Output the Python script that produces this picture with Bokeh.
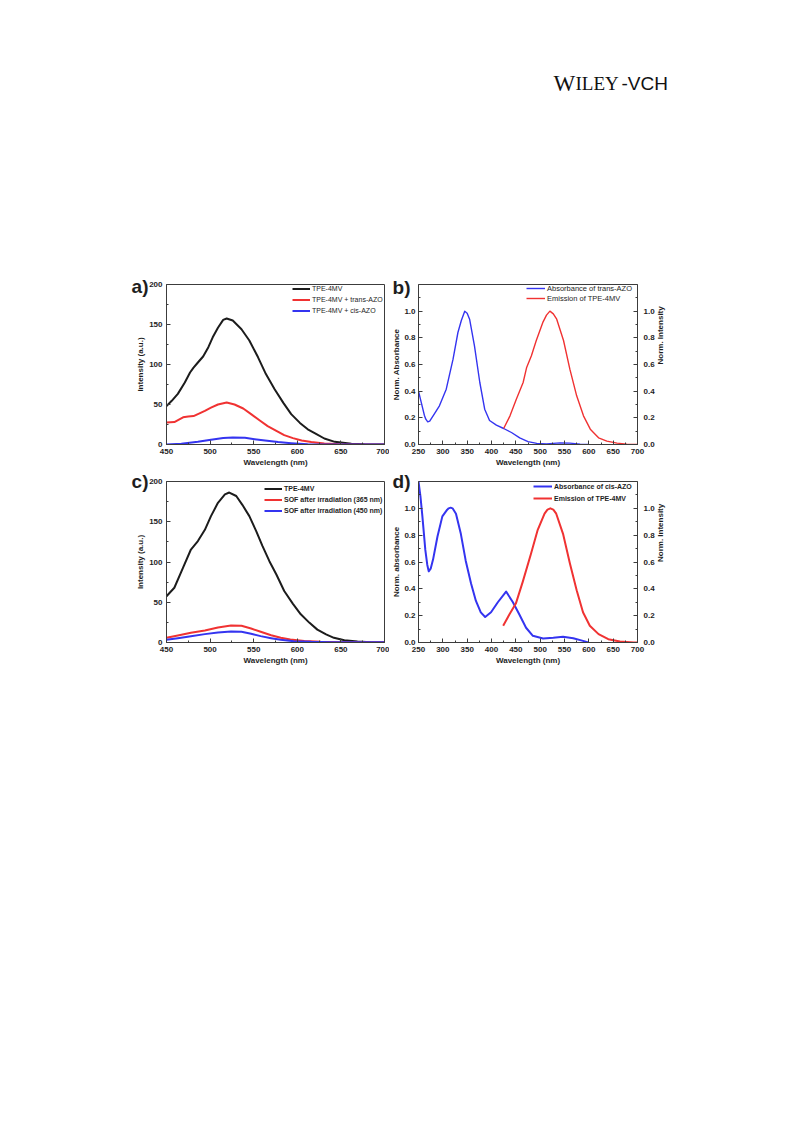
import math
from bokeh.plotting import figure
from bokeh.layouts import column, row
from bokeh.models import (Range1d, LinearAxis, FixedTicker, PrintfTickFormatter,
                          Legend, LegendItem, CustomJSTickFormatter)
from bokeh.embed import file_html
from bokeh.resources import INLINE
from bokeh.core.properties import value

# ---------------- data ----------------
# panel a: fluorescence intensity (a.u.) vs wavelength (nm)
a_x_black = [450, 456, 463, 471, 477, 481, 486, 492, 498, 503, 509, 515, 519, 526, 536, 545, 555,
             564, 574, 584, 593, 603, 612, 622, 631, 643, 662, 677, 700]
a_black = [48, 54.6, 63.3, 77.5, 90, 96, 102.5, 110, 121.7, 134, 146, 155.8, 157.5, 155, 144, 130, 109,
           88, 69, 52, 38, 27, 19, 13, 7.5, 3.3, 1, 0.3, 0]
a_x_red = [450, 459, 469, 475, 481, 486, 494, 501, 509, 519, 528, 538, 547, 557, 566, 576, 585, 595,
           605, 616, 631, 650, 700]
a_red = [27.5, 28, 34, 35, 35.5, 38, 42, 46, 50, 52.5, 50, 45, 38, 30, 23, 17, 11.7, 8,
         5, 3, 1.3, 0.4, 0]
a_x_blue = [450, 467, 486, 501, 515, 526, 540, 551, 563, 578, 593, 612, 640, 700]
a_blue = [0, 1, 3.3, 6, 8, 8.8, 8.3, 6.7, 5, 3, 1.7, 0.4, 0.1, 0]
a_labels = ["TPE-4MV", "TPE-4MV + trans-AZO", "TPE-4MV + cis-AZO"]

# panel b: normalized absorbance of trans-AZO and emission of TPE-4MV
b_x_abs = [250, 256, 262, 265, 269, 273, 280, 293, 307, 321, 331, 338, 345, 350, 355, 365, 376, 386,
           396, 410, 425, 441, 458, 475, 493, 513, 541, 561, 582, 600]
b_abs = [0.40, 0.31, 0.22, 0.19, 0.17, 0.175, 0.215, 0.29, 0.415, 0.64, 0.84, 0.93, 1.0, 0.985, 0.94,
         0.74, 0.465, 0.265, 0.18, 0.145, 0.12, 0.09, 0.05, 0.022, 0.008, 0.005, 0.012, 0.01, 0.003, 0.0]
b_x_em = [425, 438, 451, 465, 472, 482, 492, 506, 513, 520, 527, 534, 548, 561, 575, 589, 603, 620,
          637, 658, 678, 700]
b_em = [0.12, 0.215, 0.34, 0.465, 0.575, 0.665, 0.78, 0.92, 0.97, 1.0, 0.98, 0.94, 0.78, 0.565, 0.365,
        0.215, 0.115, 0.05, 0.025, 0.01, 0.003, 0.0]
b_labels = ["Absorbance of trans-AZO", "Emission of TPE-4MV"]

# panel c: fluorescence intensity of SOF
c_x_black = [450, 459, 469, 478, 486, 494, 501, 509, 517, 522, 530, 537, 545, 553, 560, 568, 576,
             585, 595, 604, 614, 623, 633, 642, 654, 669, 684, 700]
c_black = [57.5, 68, 93, 115.5, 126, 140, 157, 173.5, 184, 186.3, 182, 171, 157, 138, 120, 101, 84.5,
           64, 48, 35, 24.4, 16, 10, 5.8, 2.9, 1.2, 0.4, 0]
c_x_red = [450, 463, 478, 494, 509, 524, 536, 547, 558, 570, 581, 592, 608, 627, 650, 700]
c_red = [5.8, 8.7, 12, 15, 18.6, 21, 20.7, 17.4, 13.3, 9.1, 5.8, 3.7, 2, 0.8, 0.4, 0.2]
c_x_blue = [450, 463, 478, 494, 509, 524, 536, 547, 558, 570, 581, 596, 616, 639, 700]
c_blue = [3.3, 5.4, 7.9, 10.4, 12.4, 13.7, 13.3, 10.8, 7.9, 5.4, 3.3, 1.7, 0.8, 0.4, 0.2]
c_labels = ["TPE-4MV", "SOF after irradiation (365 nm)", "SOF after irradiation (450 nm)"]

# panel d: normalized absorbance of cis-AZO and emission of TPE-4MV
d_x_abs = [250, 254, 258, 264, 268, 271, 275, 280, 289, 299, 309, 312, 316, 320, 327, 337, 347, 358,
           368, 378, 387, 399, 413, 430, 444, 457, 471, 485, 506, 527, 547, 568, 588, 599]
d_abs = [1.2, 1.09, 0.94, 0.69, 0.58, 0.53, 0.55, 0.62, 0.79, 0.94, 0.99, 1.0, 1.005, 1.0, 0.96, 0.81,
         0.61, 0.44, 0.31, 0.225, 0.19, 0.225, 0.30, 0.38, 0.30, 0.21, 0.11, 0.05, 0.03, 0.035, 0.042,
         0.032, 0.012, 0.0]
d_x_em = [424, 437, 450, 464, 481, 495, 509, 515, 521, 527, 533, 547, 561, 575, 588, 602, 620, 640,
          664, 692, 700]
d_em = [0.125, 0.21, 0.29, 0.45, 0.66, 0.84, 0.96, 0.99, 1.0, 0.99, 0.96, 0.81, 0.59, 0.39, 0.225,
        0.125, 0.0625, 0.025, 0.0075, 0.0, 0.0]
d_labels = ["Absorbance of cis-AZO", "Emission of TPE-4MV"]

# axis ticks
int_ticks = [0, 50, 100, 150, 200]
int_minor = [25, 75, 125, 175]
wl_ticks_ac = [450, 500, 550, 600, 650, 700]
wl_minor_ac = [475, 525, 575, 625, 675]
wl_ticks_bd = [250, 300, 350, 400, 450, 500, 550, 600, 650, 700]
wl_minor_bd = [275, 325, 375, 425, 475, 525, 575, 625, 675]
norm_ticks = [0.0, 0.2, 0.4, 0.6, 0.8, 1.0]
norm_minor = [0.1, 0.3, 0.5, 0.7, 0.9, 1.1]

panel_tags = ["a)", "b)", "c)", "d)"]
header_parts = ["W", "ILEY", "-VCH"]

# ---------------- style ----------------
FONT = "Liberation Sans"
INK = "#1e1e1e"
AXC = "#3c3c3c"
BLACK = "#1c1c1c"
RED = "#f03232"
BLUE = "#3434f0"


def base_fig(width, height, xr, yr, mbl, mbr, mbt, mbb):
    p = figure(width=width, height=height, x_range=Range1d(*xr), y_range=Range1d(*yr),
               output_backend="svg", toolbar_location=None,
               min_border_left=mbl, min_border_right=mbr,
               min_border_top=mbt, min_border_bottom=mbb)
    p.xgrid.visible = False
    p.ygrid.visible = False
    p.outline_line_color = AXC
    p.outline_line_width = 1
    p.outline_line_alpha = 1.0
    p.background_fill_color = "white"
    p.border_fill_color = "white"
    return p


def style_axis(ax, ticks, minor, label, tick_standoff, label_standoff, fmt=None):
    ax.ticker = FixedTicker(ticks=ticks, minor_ticks=minor)
    if fmt:
        ax.formatter = PrintfTickFormatter(format=fmt)
    ax.axis_label = label
    ax.major_tick_in = 4
    ax.major_tick_out = 0
    ax.minor_tick_in = 2
    ax.minor_tick_out = 0
    ax.axis_line_color = AXC
    ax.major_tick_line_color = AXC
    ax.minor_tick_line_color = AXC
    ax.major_label_text_font = FONT
    ax.major_label_text_font_size = "8px"
    ax.major_label_text_font_style = "bold"
    ax.major_label_text_color = INK
    ax.axis_label_text_font = FONT
    ax.axis_label_text_font_size = "8px"
    ax.axis_label_text_font_style = "bold"
    ax.axis_label_text_color = INK
    ax.major_label_standoff = tick_standoff
    ax.axis_label_standoff = label_standoff


def add_legend(p, renderers, labels, loc, glyph_w, row_h, size, style):
    items = [LegendItem(label=l, renderers=[r]) for l, r in zip(labels, renderers)]
    lg = Legend(items=items, location=loc, margin=0, padding=0, spacing=0,
                glyph_width=glyph_w, glyph_height=row_h, label_height=row_h,
                label_standoff=2, label_text_font=FONT, label_text_font_size=size,
                label_text_font_style=style, label_text_color=INK,
                border_line_color=None, background_fill_alpha=0.0)
    p.add_layout(lg)


def panel_tag(p, text, ypos, standoff):
    # the panel letter is drawn as the single label of an extra, line-less left axis
    ax = LinearAxis()
    ax.ticker = FixedTicker(ticks=[ypos], minor_ticks=[])
    ax.formatter = CustomJSTickFormatter(code="return %r;" % text)
    ax.axis_line_color = None
    ax.major_tick_line_color = None
    ax.minor_tick_line_color = None
    ax.major_tick_in = 0
    ax.major_tick_out = 0
    ax.minor_tick_in = 0
    ax.minor_tick_out = 0
    ax.major_label_standoff = standoff
    ax.major_label_text_font = FONT
    ax.major_label_text_font_size = "19px"
    ax.major_label_text_font_style = "bold"
    ax.major_label_text_color = INK
    p.add_layout(ax, "left")


def right_axis(p, label):
    p.extra_y_ranges = {"right": Range1d(0, 1.2)}
    ax = LinearAxis(y_range_name="right")
    style_axis(ax, norm_ticks, norm_minor, label, 6, 3, "%.1f")
    try:
        ax.axis_label_orientation = math.pi / 2
    except Exception:
        pass
    p.add_layout(ax, "right")


def draw(p, xs, ys, color, width, **kw):
    return p.line(xs, ys, line_color=color, line_width=width, line_join="round", **kw)


# ---------------- header ----------------
hdr = figure(width=720, height=270, x_range=Range1d(0, 720), y_range=Range1d(270, 0),
             output_backend="svg", toolbar_location=None,
             x_axis_type=None, y_axis_type=None, min_border=0)
hdr.outline_line_color = None
hdr.xgrid.visible = False
hdr.ygrid.visible = False
hdr.text(x=[553], y=[82.7], text=[header_parts[0]], text_font=value("Liberation Serif"),
         text_font_size="23px", text_align="left", text_baseline="alphabetic", text_color="#111111")
hdr.text(x=[575], y=[82.7], text=[header_parts[1]], text_font=value("Liberation Serif"),
         text_font_size="19px", text_align="left", text_baseline="alphabetic", text_color="#111111")
hdr.text(x=[621], y=[82.7], text=[header_parts[2]], text_font=value("Liberation Sans"),
         text_font_size="19px", text_align="left", text_baseline="alphabetic", text_color="#111111")

# ---------------- panel a ----------------
pa = base_fig(389, 200, (450, 700), (0, 200), 166, 5, 14, 26)
style_axis(pa.xaxis[0], wl_ticks_ac, wl_minor_ac, "Wavelength (nm)", 4, 1)
style_axis(pa.yaxis[0], int_ticks, int_minor, "Intensity (a.u.)", 4, 1)
panel_tag(pa, panel_tags[0], 197, -15)
ra1 = draw(pa, a_x_black, a_black, BLACK, 2)
ra2 = draw(pa, a_x_red, a_red, RED, 2)
ra3 = draw(pa, a_x_blue, a_blue, BLUE, 2)
add_legend(pa, [ra1, ra2, ra3], a_labels, (126, 128), 18, 11, "7px", "normal")

# ---------------- panel b ----------------
pb = base_fig(284, 200, (250, 700), (0, 1.2), 28, 36, 14, 26)
style_axis(pb.xaxis[0], wl_ticks_bd, wl_minor_bd, "Wavelength (nm)", 4, 1)
style_axis(pb.yaxis[0], norm_ticks, norm_minor, "Norm. Absorbance", 3, 0, "%.1f")
panel_tag(pb, panel_tags[1], 1.174, -21)
right_axis(pb, "Norm. Intensity")
rb1 = draw(pb, b_x_abs, b_abs, BLUE, 1.4)
rb2 = draw(pb, b_x_em, b_em, RED, 1.4, y_range_name="right")
add_legend(pb, [rb1, rb2], b_labels, (108, 141), 19, 10, "7.5px", "normal")

# ---------------- panel c ----------------
pc = base_fig(389, 198, (450, 700), (0, 200), 166, 5, 11, 26)
style_axis(pc.xaxis[0], wl_ticks_ac, wl_minor_ac, "Wavelength (nm)", 4, 1)
style_axis(pc.yaxis[0], int_ticks, int_minor, "Intensity (a.u.)", 4, 1)
panel_tag(pc, panel_tags[2], 200, -15)
rc1 = draw(pc, c_x_black, c_black, BLACK, 2)
rc2 = draw(pc, c_x_red, c_red, RED, 2)
rc3 = draw(pc, c_x_blue, c_blue, BLUE, 2)
add_legend(pc, [rc1, rc2, rc3], c_labels, (98, 126), 18, 11, "7px", "bold")

# ---------------- panel d ----------------
pd_ = base_fig(284, 198, (250, 700), (0, 1.2), 28, 36, 11, 26)
style_axis(pd_.xaxis[0], wl_ticks_bd, wl_minor_bd, "Wavelength (nm)", 4, 1)
style_axis(pd_.yaxis[0], norm_ticks, norm_minor, "Norm. absorbance", 3, 0, "%.1f")
panel_tag(pd_, panel_tags[3], 1.2, -21)
right_axis(pd_, "Norm. Intensity")
rd1 = draw(pd_, d_x_abs, d_abs, BLUE, 2)
rd2 = draw(pd_, d_x_em, d_em, RED, 2, y_range_name="right")
add_legend(pd_, [rd1, rd2], d_labels, (115, 138), 19, 12, "7px", "bold")

layout = column(hdr, row(pa, pb), row(pc, pd_))

open("out.html", "w").write(file_html(layout, INLINE))
